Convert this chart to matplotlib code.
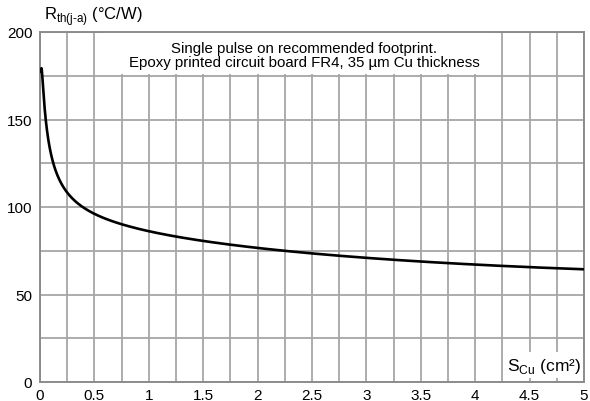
import matplotlib.pyplot as plt
from matplotlib.patches import Rectangle
import numpy as np

plt.rcParams["font.family"] = ["Liberation Sans", "DejaVu Sans"]
plt.rcParams["mathtext.fontset"] = "custom"
plt.rcParams["mathtext.rm"] = "Liberation Sans"

# curve
s_cu = [0.01, 0.034, 0.055, 0.083, 0.12, 0.196, 0.25, 0.38, 0.5, 0.75, 1.0, 1.25, 1.5, 2.0, 2.5, 3.0, 3.5, 4.0, 4.5, 5.0]
r_th = [176.5, 161.7, 150, 137.5, 125, 112.5, 106.8, 100.3, 97.2, 91.2, 86.5, 82.9, 80.2, 76.4, 73.1, 70.7, 69.0, 67.4, 65.9, 64.4]

x_ticks = [0, 0.5, 1, 1.5, 2, 2.5, 3, 3.5, 4, 4.5, 5]
x_tick_labels = ["0", "0.5", "1", "1.5", "2", "2.5", "3", "3.5", "4", "4.5", "5"]
y_ticks = [0, 50, 100, 150, 200]

# smooth least-squares line through the read points (log x), end points pinned harder
lx = np.log10(np.array(s_cu))
w = np.ones(len(lx))
w[0] = w[-1] = 6
coef = np.polyfit(lx, np.array(r_th), 5, w=w)
lf = np.linspace(lx[0], lx[-1], 600)

fig = plt.figure(figsize=(5.9, 4.02), dpi=100)
ax = fig.add_axes([40 / 590, 19 / 402, 544 / 590, 350 / 402])
ax.plot(10**lf, np.polyval(coef, lf), color="black", lw=1.9, zorder=3, solid_capstyle="butt")

ax.set_xlim(0, 5)
ax.set_ylim(0, 200)
ax.set_xticks(x_ticks)
ax.set_xticklabels(x_tick_labels)
ax.set_yticks(y_ticks)
ax.set_xticks(np.arange(0, 5.01, 0.25), minor=True)
ax.set_yticks(np.arange(0, 200.1, 25), minor=True)
ax.grid(which="both", color="#a6a6a6", lw=1.3)
ax.set_axisbelow(True)
ax.tick_params(which="both", length=0, labelsize=11)
ax.tick_params(axis="x", pad=4.5)
ax.tick_params(axis="y", pad=5.5)
for sp in ax.spines.values():
    sp.set_color("#8c8c8c")
    sp.set_linewidth(1.4)

ax.add_patch(Rectangle((0.12, 0.879), 0.71, 0.121, transform=ax.transAxes,
                       facecolor="white", edgecolor="none", zorder=1.5))
ax.text(2.43, 187, "Single pulse on recommended footprint.\nEpoxy printed circuit board FR4, 35 µm Cu thickness",
        ha="center", va="center", fontsize=10.8, linespacing=1.0, zorder=2)

ax.text(4.975, 9.5, r"S$_{\rm Cu}$ (cm²)", ha="right", va="center", fontsize=12.5,
        bbox=dict(facecolor="white", edgecolor="none", pad=2.5), zorder=2)

fig.text(44 / 590, 1 - 17 / 402, r"R$_{\rm th(j\text{-}a)}$ (°C/W)", ha="left", va="center", fontsize=12)

fig.savefig("out.png", dpi=100)
